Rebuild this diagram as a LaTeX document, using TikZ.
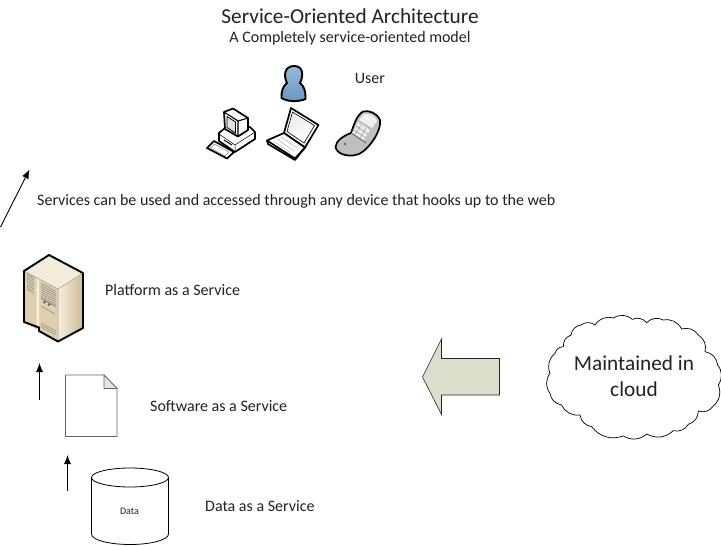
\documentclass[tikz,border=0pt]{standalone}
\usepackage{fontspec}
\setmainfont{Carlito}
\usetikzlibrary{arrows.meta}
\definecolor{txt}{HTML}{222222}
\definecolor{persontop}{RGB}{150,185,220}
\definecolor{personbot}{RGB}{105,150,195}
\definecolor{srvlight}{RGB}{246,239,222}
\definecolor{srvdark}{RGB}{205,188,148}
\definecolor{srvtop}{RGB}{243,236,218}
\definecolor{srvfront}{RGB}{222,208,175}
\definecolor{srvstrip}{RGB}{245,238,220}
\definecolor{blockfill}{RGB}{221,223,205}
\tikzset{
  x=1pt,y=-1pt,
  flowarrow/.style={draw=black,line width=0.9pt,-{Latex[length=9pt,width=7pt]}},
  label/.style={inner sep=0pt,text=txt,font=\fontsize{16}{19}\selectfont},
  thick icon/.style={draw=black,line width=1.7pt,line join=round},
  thin icon/.style={draw=black,line width=0.5pt,line join=round},
  bump/.style={bend left=36,looseness=1},
}
\begin{document}
\begin{tikzpicture}
\useasboundingbox (0,0) rectangle (721,546);
\fill[white] (0,0) rectangle (721,546);

% titles and labels
\node[label,font=\fontsize{21.3}{25}\selectfont] (title) at (350,16) {Service-Oriented Architecture};
\node[label] (subtitle) at (350,38.5) {A Completely service-oriented model};
\node[label] (user) at (370,78) {User};
\node[label,anchor=west] (services) at (37,201) {Services can be used and accessed through any device that hooks up to the web};
\node[label,anchor=west] (platform) at (105,290) {Platform as a Service};
\node[label,anchor=west] (software) at (150,406) {Software as a Service};
\node[label,anchor=west] (dataservice) at (205,506) {Data as a Service};

% person
\shade[thick icon,top color=persontop,bottom color=personbot,line width=1.9pt]
  (287,83) .. controls (283,75) and (285,66) .. (294,66)
  .. controls (303,66) and (304,75) .. (300,83)
  .. controls (304,86) and (306,92) .. (305.5,99)
  .. controls (298,102) and (288,102) .. (281.5,98)
  .. controls (281,92) and (283,86) .. (287,83) -- cycle;

% desktop computer
\filldraw[thick icon,fill=white] (207,148) -- (214,141) -- (234,152) -- (227,158.5) -- cycle;
\draw[thin icon,gray] (210.5,148) -- (214.5,144) -- (229,152) -- (225,156) -- cycle;
\filldraw[thick icon,fill=white] (219,133) -- (225,128) -- (250,127) -- (255,132) -- (255,139) -- (235,152) -- (219,141) -- cycle;
\draw[thin icon] (219,134) -- (235,145) -- (255,132) (235,145) -- (235,152);
\draw[line width=1pt] (224,140) -- (232,145);
\filldraw[thick icon,fill=white] (224,112) -- (233,108.5) -- (248,118) -- (248,130) -- (238,136.5) -- (225,129) -- cycle;
\draw[line width=1.1pt] (224,112) -- (238,121) -- (248,118) (238,121) -- (238,136.5);
\filldraw[draw=black,line width=.8pt,fill=black!12] (227,116.5) -- (235.5,122) -- (235.5,133) -- (227,127.5) -- cycle;

% laptop
\filldraw[thick icon,fill=white] (291,108) -- (318.5,125) -- (305,147.5) -- (284,133) -- cycle;
\shade[draw=black,line width=.6pt,top color=black!8,bottom color=white,shading angle=30] (292.5,112) -- (314.5,125.5) -- (304,143) -- (287,131.5) -- cycle;
\filldraw[thick icon,fill=white] (284,133) -- (267,140.5) -- (295,158.5) -- (305,147.5) -- cycle;
\draw[line width=.4pt,black!35] (281,137) -- (297,148) (277,139) -- (294,151) (273,141) -- (291,153);
\draw[thick icon] (267,140.5) -- (268,144) -- (295,160) -- (305,147.5);

% phone
\filldraw[thick icon,fill=black!25] (363,111.5) .. controls (369,110) and (377,113) .. (380,120)
  .. controls (381,125) and (378,134) .. (372,142)
  .. controls (366,150) and (360,155) .. (353,155.5)
  .. controls (346,156) and (337,154) .. (335.5,147)
  .. controls (336,141) and (343,136) .. (351,133)
  .. controls (354,125) and (356,116) .. (363,111.5) -- cycle;
\fill[black!8] (358,122) -- (370,130) -- (364,140) -- (352,133) -- cycle;
\draw[line width=.5pt,black!40] (356,126) -- (368,134) (354,130) -- (366,138) (361,125) -- (355,135) (366,128) -- (360,138);
\fill[black!6] (364,114) .. controls (369,113) and (376,116) .. (377,121) -- (372,128) -- (359,120) -- cycle;
\fill[black!60] (345,144) circle (1.3);
\draw[line width=.6pt,black!70] (351,133) -- (366,143);

% server
\shade[left color=srvlight,right color=srvdark] (58,289) -- (83,273) -- (83,328) -- (58,341) -- cycle;
\fill[srvtop] (49,255) -- (83,273) -- (58,289) -- (24,271) -- cycle;
\fill[srvfront] (24,271) -- (58,289) -- (58,341) -- (39,331) -- (24,322) -- cycle;
\fill[srvstrip] (36.5,278) -- (39,279.5) -- (39,331) -- (36.5,329.5) -- cycle;
\foreach \k in {0,1,...,7}{
  \draw[black!50,line width=.45pt] (27,{274+2.2*\k}) -- (34,{278+2.2*\k});
  \draw[black!50,line width=.45pt] (41,{283+2.2*\k}) -- (56,{291.5+2.2*\k});
}
\foreach \k in {0,1,2}
  \draw[black!45,line width=.45pt] (41,{323+2*\k}) -- (56,{331+2*\k});
\fill[black!60] (44.5,302) circle (1.5) (49,304.5) circle (1.5);
\draw[black!55,line width=.4pt] (41,298) -- (55,306) (41,306) -- (55,314);
\draw[line width=.5pt,black!40] (58,289) -- (24,271) (58,289) -- (83,273) (58,289) -- (58,341);
\draw[thick icon,line width=1.9pt] (49,255) -- (83,273) -- (83,328) -- (58,341.5) -- (39,331) -- (39,327.5) -- (24,322) -- (24,271) -- cycle;

% document
\draw[draw=black!60,line width=.9pt,fill=white] (65.5,375) -- (104,375) -- (117,388.5) -- (117,436.5) -- (65.5,436.5) -- cycle;
\filldraw[draw=black!60,line width=.7pt,fill=black!10] (104,375) -- (104,388.5) -- (117,388.5) -- cycle;

% database
\draw[black,line width=.8pt,fill=white] (91.5,477.5) -- (91.5,534) arc[start angle=180,end angle=360,x radius=38.5,y radius=-10.5] -- (168.5,477.5);
\draw[black,line width=.8pt,fill=white] (130,477.5) ellipse[x radius=38.5,y radius=9.5];
\node[inner sep=0pt,text=txt,font=\fontsize{10}{12}\selectfont] (data) at (129.5,511) {Data};

% connectors
\coordinate (a1s) at (39.5,400); \coordinate (a1e) at (39.5,363);
\coordinate (a2s) at (67.5,491); \coordinate (a2e) at (67.5,455);
\coordinate (a3s) at (0.5,227); \coordinate (a3e) at (29.5,169.5);
\draw[flowarrow] (a1s) -- (a1e);
\draw[flowarrow] (a2s) -- (a2e);
\draw[flowarrow] (a3s) -- (a3e);

% block arrow
\filldraw[draw=black!85,line width=.6pt,fill=blockfill]
  (422.5,377) -- (441.5,339) -- (441.5,358.5) -- (499.5,358.5) -- (499.5,395) -- (441.5,395) -- (441.5,414.5) -- cycle;

% cloud
\begin{scope}[shift={(545,310)},x=0.3333pt,y=-0.3333pt]
\draw[black,line width=.7pt,fill=white]
 (78,75) to[bump] (108,45) to[bump] (150,45) to[bump] (205,24) to[bump] (262,28)
 to[bump] (305,38) to[bump] (355,30) to[bump] (410,57) to[bump] (460,75) to[bump] (480,125)
 to[bump] (518,165) to[bump] (520,225) to[bump] (503,290) to[bump] (460,303) to[bump] (430,343)
 to[bump] (385,362) to[bump] (305,372) to[bump] (235,378) to[bump] (140,350) to[bump] (105,315)
 to[bump] (50,285) to[bump] (15,250) to[bump] (15,190) to[bump] (30,130) to[bump] (55,110)
 to[bump] cycle;
\end{scope}
\node[inner sep=0pt,text=txt,font=\fontsize{21.3}{26}\selectfont,align=center] (cloud) at (634,376) {Maintained in\\cloud};
\end{tikzpicture}
\end{document}
